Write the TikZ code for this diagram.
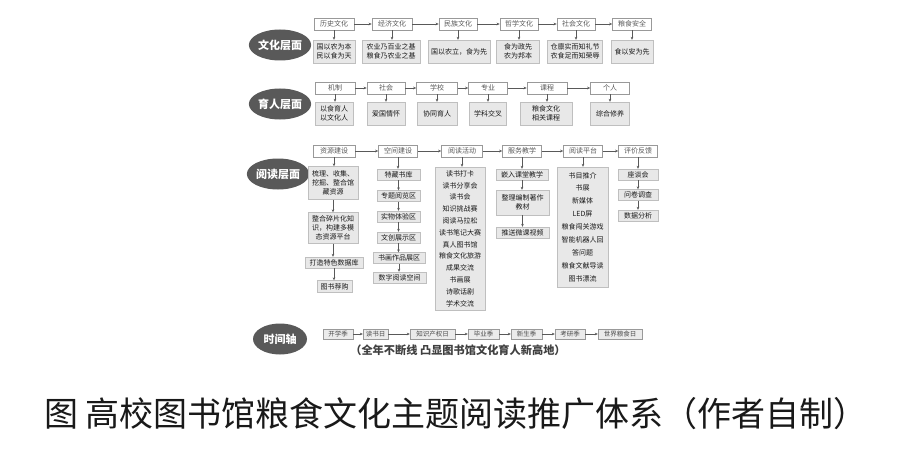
\documentclass[tikz,border=0pt]{standalone}
\usepackage{fontspec}
\setmainfont{Noto Sans CJK SC}
\usetikzlibrary{shapes.geometric,arrows.meta}

\tikzset{
	layer/.style={ellipse, fill=black!65, text=white, inner sep=0pt,
		minimum width=54pt, minimum height=31pt, font=\fontsize{11}{11}\selectfont\bfseries},
	head/.style={draw=black!40, fill=white, line width=0.7pt, text=black!65, inner sep=0.5pt,
		minimum height=12pt, font=\fontsize{7}{8}\selectfont},
	item/.style={draw=black!25, fill=black!9, text=black!90, inner sep=0.5pt, align=center,
		font=\fontsize{7}{9}\selectfont},
	stamp/.style={draw=black!40, fill=black!8, text=black!70, inner sep=0.5pt,
		minimum height=10pt, font=\fontsize{6.5}{7}\selectfont},
	dim/.style 2 args={minimum width=#1pt, minimum height=#2pt},
	arr/.style={-{Stealth[length=3pt,width=2.6pt]}, black!65, line width=0.6pt}
}

\begin{document}
\begin{tikzpicture}[x=1pt,y=-1pt]
	\fill[white] (0,0) rectangle (900,460);
	\useasboundingbox (0,0) rectangle (900,460);
	
	% layers
	\node[layer] (lay1) at (280,45) {文化层面};
	\node[layer] (lay2) at (280,104) {育人层面};
	\node[layer] (lay3) at (278,174) {阅读层面};
	\node[layer] (lay4) at (280,339) {时间轴};
	
	% culture
	\node[head, minimum width=40pt] (wh1) at (334,24) {历史文化};
	\node[head, minimum width=40pt] (wh2) at (392,24) {经济文化};
	\node[head, minimum width=38pt] (wh3) at (458,24) {民族文化};
	\node[head, minimum width=38pt] (wh4) at (519,24) {哲学文化};
	\node[head, minimum width=38pt] (wh5) at (576,24) {社会文化};
	\node[head, minimum width=39pt] (wh6) at (632,24) {粮食安全};
	\node[item, dim={42}{23}] (wl1) at (334,51.5) {国以农为本\\民以食为天};
	\node[item, dim={58}{23}] (wl2) at (391,51.5) {农业乃百业之基\\粮食乃农业之基};
	\node[item, dim={62}{23}] (wl3) at (459,51.5) {国以农立，食为先};
	\node[item, dim={43}{23}] (wl4) at (518,51.5) {食为政先\\农为邦本};
	\node[item, dim={55}{23}] (wl5) at (575,51.5) {仓廪实而知礼节\\衣食足而知荣辱};
	\node[item, dim={42}{23}] (wl6) at (632,51.5) {食以安为先};
	
	% education
	\node[head, minimum width=40pt] (eh1) at (335,88) {机制};
	\node[head, minimum width=38pt] (eh2) at (386,88) {社会};
	\node[head, minimum width=41pt] (eh3) at (437,88) {学校};
	\node[head, minimum width=39pt] (eh4) at (488,88) {专业};
	\node[head, minimum width=40pt] (eh5) at (547,88) {课程};
	\node[head, minimum width=39pt] (eh6) at (610,88) {个人};
	\node[item, dim={38}{23}] (el1) at (334,113.5) {以食育人\\以文化人};
	\node[item, dim={38}{23}] (el2) at (386,113.5) {爱国情怀};
	\node[item, dim={40}{23}] (el3) at (437,113.5) {协同育人};
	\node[item, dim={37}{23}] (el4) at (488,113.5) {学科交叉};
	\node[item, dim={52}{23}] (el5) at (546,113.5) {粮食文化\\相关课程};
	\node[item, dim={39}{23}] (el6) at (610,113.5) {综合修养};
	
	\foreach \i [count=\j from 2] in {1,...,5}{
		\draw[arr] (wh\i) -- (wh\j);
		\draw[arr] (eh\i) -- (eh\j);
	}
	\foreach \i in {1,...,6}{
		\draw[arr] (wh\i) -- (wh\i |- wl\i.north);
		\draw[arr] (eh\i) -- (eh\i |- el\i.north);
	}
	
	% reading
	\node[head, minimum width=42pt] (rh1) at (334,151) {资源建设};
	\node[head, minimum width=39pt] (rh2) at (398,151) {空间建设};
	\node[head, minimum width=41pt] (rh3) at (462,151) {阅读活动};
	\node[head, minimum width=39pt] (rh4) at (522,151) {服务教学};
	\node[head, minimum width=39pt] (rh5) at (583,151) {阅读平台};
	\node[head, minimum width=39pt] (rh6) at (638,151) {评价反馈};
	
	\node[item, dim={50}{33}] (ra1) at (333,183) {梳理、收集、\\挖掘、整合馆\\藏资源};
	\node[item, dim={50}{31}] (ra2) at (333,228) {整合碎片化知\\识，构建多模\\态资源平台};
	\node[item, dim={58}{11}] (ra3) at (334,262.5) {打造特色数据库};
	\node[item, dim={35}{12}] (ra4) at (334.5,286.5) {图书荐购};
	
	\node[item, dim={43}{11}] (rb1) at (398.5,174.5) {特藏书库};
	\node[item, dim={43}{11}] (rb2) at (398.5,196) {专题阅览区};
	\node[item, dim={43}{11}] (rb3) at (398.5,216.5) {实物体验区};
	\node[item, dim={43}{11}] (rb4) at (398.5,237.5) {文创展示区};
	\node[item, dim={52}{11}] (rb5) at (399,258) {书画作品展区};
	\node[item, dim={53}{11}] (rb6) at (399.5,277.5) {数字阅读空间};
	
	\node[item, dim={50}{143}, font=\fontsize{7}{11.8}\selectfont] (rc) at (460,238.5)
		{读书打卡\\读书分享会\\读书会\\知识挑战赛\\阅读马拉松\\读书笔记大赛\\真人图书馆\\粮食文化旅游\\成果交流\\书画展\\诗歌话剧\\学术交流};
	
	\node[item, dim={52}{11}] (rd1) at (522,174.5) {嵌入课堂教学};
	\node[item, dim={53}{25}] (rd2) at (522.5,202.5) {整理编制著作\\教材};
	\node[item, dim={53}{11}] (rd3) at (522.5,232.5) {推送微课视频};
	
	\node[item, dim={51}{120}, font=\fontsize{7}{12.9}\selectfont] (re) at (582.5,227)
		{书目推介\\书展\\新媒体\\LED屏\\粮食闯关游戏\\智能机器人回\\答问题\\粮食文献导读\\图书漂流};
	
	\node[item, dim={40}{11}] (rf1) at (638,174.5) {座谈会};
	\node[item, dim={40}{11}] (rf2) at (638,195) {问卷调查};
	\node[item, dim={40}{11}] (rf3) at (638,215.5) {数据分析};
	
	\foreach \i [count=\j from 2] in {1,...,5}
		\draw[arr] (rh\i) -- (rh\j);
	\foreach \a/\b in {rh1/ra1, ra1/ra2, ra2/ra3, ra3/ra4,
		rh2/rb1, rb1/rb2, rb2/rb3, rb3/rb4, rb4/rb5, rb5/rb6,
		rh3/rc, rh4/rd1, rd1/rd2, rd2/rd3, rh5/re,
		rh6/rf1, rf1/rf2, rf2/rf3}
		\draw[arr] (\a) -- (\a |- \b.north);
	
	% time line
	\node[stamp, minimum width=30pt] (t1) at (338,334) {开学季};
	\node[stamp, minimum width=25pt] (t2) at (375.5,334) {读书日};
	\node[stamp, minimum width=45pt] (t3) at (432.5,334) {知识产权日};
	\node[stamp, minimum width=31pt] (t4) at (483.5,334) {毕业季};
	\node[stamp, minimum width=31pt] (t5) at (526.5,334) {新生季};
	\node[stamp, minimum width=30pt] (t6) at (570,334) {考研季};
	\node[stamp, minimum width=44pt] (t7) at (620,334) {世界粮食日};
	\foreach \i [count=\j from 2] in {1,...,6}
		\draw[arr] (t\i) -- (t\j);
	\node[text=black!75, font=\fontsize{11.2}{12}\selectfont\bfseries] (note) at (458,350)
		{（全年不断线 凸显图书馆文化育人新高地）};
	
	% caption
	\node[text=black!90, font=\fontsize{34}{34}\selectfont] (cap) at (456,414)
		{图 高校图书馆粮食文化主题阅读推广体系（作者自制）};
\end{tikzpicture}
\end{document}
